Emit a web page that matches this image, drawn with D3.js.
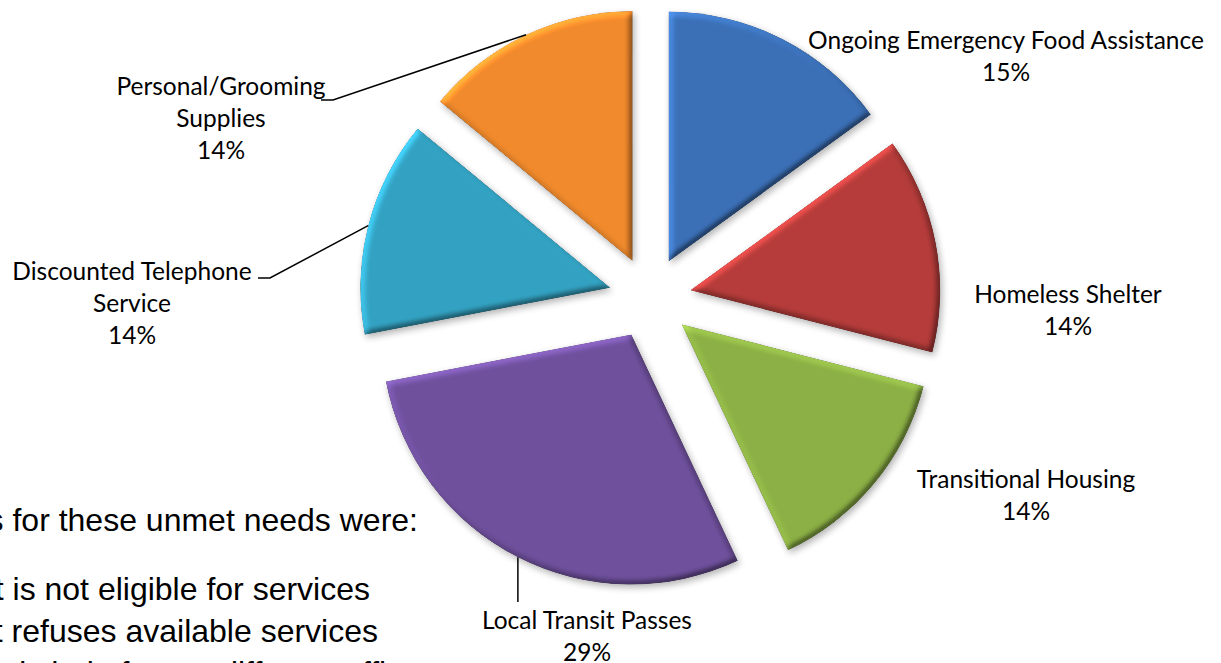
<!DOCTYPE html>
<meta charset="utf-8">
<style>
body { margin: 0; background: #fff; }
svg { display: block; }
.lbl { font-family: Lato, 'Open Sans', sans-serif; font-size: 24.5px; fill: #000; }
.note { font-family: 'Liberation Sans', Arial, sans-serif; font-size: 32px; fill: #000; }
</style>
<svg width="1221" height="663"></svg>
<script src="https://d3js.org/d3.v7.min.js"></script>
<script>
// slices, clockwise from 12 o'clock
var categories = ["Ongoing Emergency Food Assistance", "Homeless Shelter", "Transitional Housing",
                  "Local Transit Passes", "Discounted Telephone Service", "Personal/Grooming Supplies"];
var shares = [15, 14, 14, 29, 14, 14];
var colors = ["#3b70b7", "#b53c3a", "#8cb045", "#6f509d", "#33a2c2", "#f18a2c"];

// how each label is broken into lines
var labelLines = [
  ["Ongoing Emergency Food Assistance"],
  ["Homeless Shelter"],
  ["Transitional Housing"],
  ["Local Transit Passes"],
  ["Discounted Telephone", "Service"],
  ["Personal/Grooming", "Supplies"]
];

var noteLines = ["Reasons for these unmet needs were:", "Client is not eligible for services",
                 "Client refuses available services", "Client needs help from a different office"];

var svg = d3.select("svg");
var cx = 650, cy = 298, radius = 250, explode = 41;

// soft bevel + drop shadow like the office chart style
var defs = svg.append("defs");
var f = defs.append("filter").attr("id", "bevel")
    .attr("x", "-20%").attr("y", "-20%").attr("width", "140%").attr("height", "140%")
    .attr("color-interpolation-filters", "sRGB");
f.append("feGaussianBlur").attr("in", "SourceAlpha").attr("stdDeviation", 3).attr("result", "blur");
f.append("feDiffuseLighting").attr("in", "blur").attr("surfaceScale", 3).attr("diffuseConstant", 1)
    .attr("lighting-color", "#fff").attr("result", "diff")
  .append("feDistantLight").attr("azimuth", 225).attr("elevation", 30);
f.append("feComposite").attr("in", "SourceGraphic").attr("in2", "diff").attr("operator", "arithmetic")
    .attr("k1", 0.8).attr("k2", 0.6).attr("k3", 0).attr("k4", 0).attr("result", "lit");
f.append("feComposite").attr("in", "lit").attr("in2", "SourceAlpha").attr("operator", "in").attr("result", "litIn");
f.append("feGaussianBlur").attr("in", "SourceAlpha").attr("stdDeviation", 3.5).attr("result", "sblur");
f.append("feOffset").attr("in", "sblur").attr("dx", 1.5).attr("dy", 3).attr("result", "soff");
f.append("feComponentTransfer").attr("in", "soff").attr("result", "shadow")
  .append("feFuncA").attr("type", "linear").attr("slope", 0.3);
var m = f.append("feMerge");
m.append("feMergeNode").attr("in", "shadow");
m.append("feMergeNode").attr("in", "litIn");

var pie = d3.pie().sort(null).value(function(d) { return d; });
var arcs = pie(shares);
var arc = d3.arc().innerRadius(0).outerRadius(radius);

function dir(d) {
  var a = (d.startAngle + d.endAngle) / 2;
  return [Math.sin(a), -Math.cos(a)];
}

var g = svg.append("g").attr("transform", "translate(" + cx + "," + cy + ")");

g.selectAll("path.slice")
  .data(arcs)
  .enter().append("path")
    .attr("class", "slice")
    .attr("d", arc)
    .attr("fill", function(d, i) { return colors[i]; })
    .attr("filter", "url(#bevel)")
    .attr("transform", function(d) {
      var v = dir(d);
      return "translate(" + (v[0] * explode) + "," + (v[1] * explode) + ")";
    });

// label layout: text centre x, first baseline y, optional leader end
var labelPos = [
  {x: 1006, y: 49},
  {x: 1068, y: 303},
  {x: 1026, y: 488},
  {x: 587, y: 629, leader: "down", y2: 602},
  {x: 132, y: 280, leader: [[258, 278], [270, 278]]},
  {x: 221, y: 95, leader: [[321, 100], [333, 100]]}
];

var line = d3.line();
arcs.forEach(function(d, i) {
  var p = labelPos[i];
  if (p.leader) {
    var v = dir(d);
    var tip = [cx + v[0] * (explode + radius), cy + v[1] * (explode + radius)];
    var pts = p.leader === "down" ? [[tip[0], p.y2], tip] : p.leader.concat([tip]);
    svg.append("path")
      .attr("d", line(pts))
      .attr("fill", "none")
      .attr("stroke", "#000")
      .attr("stroke-width", 1.5);
  }
  var t = svg.append("text").attr("class", "lbl").attr("text-anchor", "middle");
  var lines = labelLines[i].concat([shares[i] + "%"]);
  lines.forEach(function(s, k) {
    t.append("tspan").attr("x", p.x).attr("y", p.y + k * 32).text(s);
  });
});

// slide text that runs in from the left edge
var noteY = [531, 600, 642, 684];
var noteEnd = [418, 370, 378, 420];
noteLines.forEach(function(s, i) {
  svg.append("text")
    .attr("class", "note")
    .attr("text-anchor", "end")
    .attr("x", noteEnd[i])
    .attr("y", noteY[i])
    .text(s);
});
</script>
